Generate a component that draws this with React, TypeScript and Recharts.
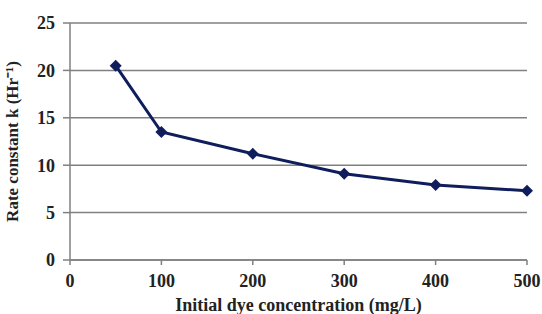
import { CartesianGrid, Line, LineChart, XAxis, YAxis } from 'recharts'

const concentrations = [50, 100, 200, 300, 400, 500]
const rateConstants = [20.5, 13.5, 11.2, 9.1, 7.9, 7.3]
const xTicks = [0, 100, 200, 300, 400, 500]
const yTicks = [0, 5, 10, 15, 20, 25]

const data = concentrations.map((c, i) => ({ c, k: rateConstants[i] }))

const navy = '#0f1d5c'
const font = '"Liberation Serif", "Times New Roman", serif'

function Diamond(props: any) {
  const { cx, cy } = props
  if (cx == null || cy == null) return null
  const r = 6
  return (
    <polygon
      points={`${cx},${cy - r} ${cx + r},${cy} ${cx},${cy + r} ${cx - r},${cy}`}
      fill={navy}
    />
  )
}

export default function App() {
  const tickStyle = { fontFamily: font, fontWeight: 'bold', fontSize: 18, fill: '#222' }
  return (
    <div style={{ position: 'absolute', left: 0, top: 0, background: '#fff' }}>
      <LineChart width={542} height={314} data={data} margin={{ top: 23, right: 15, bottom: 0, left: 0 }}>
        <CartesianGrid vertical={false} stroke="#808080" strokeWidth={1.5} />
        <XAxis
          dataKey="c"
          type="number"
          domain={[0, 500]}
          ticks={xTicks}
          height={54}
          stroke="#808080"
          strokeWidth={1.5}
          tickSize={5}
          tickMargin={9}
          tick={tickStyle}
          label={{
            value: 'Initial dye concentration (mg/L)',
            position: 'insideBottom',
            offset: 3,
            style: { fontFamily: font, fontWeight: 'bold', fontSize: 18, fill: '#222' },
          }}
        />
        <YAxis
          type="number"
          domain={[0, 25]}
          ticks={yTicks}
          width={70}
          stroke="#808080"
          strokeWidth={1.5}
          tickSize={7}
          tickMargin={8}
          tick={tickStyle}
          label={{
            value: 'Rate constant k (Hr⁻¹)',
            angle: -90,
            position: 'insideLeft',
            offset: 12,
            style: { textAnchor: 'middle', fontFamily: font, fontWeight: 'bold', fontSize: 17, fill: '#222' },
          }}
        />
        <Line
          dataKey="k"
          stroke={navy}
          strokeWidth={3}
          dot={<Diamond />}
          activeDot={false}
          isAnimationActive={false}
        />
      </LineChart>
    </div>
  )
}
